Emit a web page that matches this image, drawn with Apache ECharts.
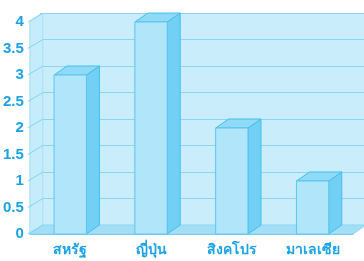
<!DOCTYPE html>
<html>
<head>
<meta charset="utf-8">
<script src="https://cdn.jsdelivr.net/npm/echarts@6/dist/echarts.min.js"></script>
<style>
  html, body { margin: 0; padding: 0; background: #fff; }
  #chart { width: 364px; height: 261px; }
</style>
</head>
<body>
<div id="chart"></div>
<script>
const categories = ['สหรัฐ', 'ญี่ปุ่น', 'สิงคโปร', 'มาเลเซีย'];
const values = [3, 4, 2, 1];
const yTicks = [0, 0.5, 1, 1.5, 2, 2.5, 3, 3.5, 4];

// depth offset of the fake 3d
const DX = 13, DY = 9;
const textColor = '#1ba3e6';

const chart = echarts.init(document.getElementById('chart'));

function drawWalls(params, api) {
  const cs = params.coordSys;
  const x0 = cs.x, x1 = cs.x + cs.width;
  const yTop = cs.y, yBot = cs.y + cs.height;
  const children = [
    {
      type: 'polygon',
      shape: { points: [[x0, yTop], [x0 + DX, yTop - DY], [x0 + DX, yBot - DY], [x0, yBot]] },
      style: { fill: '#c4ecfb', stroke: '#a6e0f6', lineWidth: 1 }
    },
    {
      type: 'polygon',
      shape: { points: [[x0, yBot], [x0 + DX, yBot - DY], [x1 + DX, yBot - DY], [x1, yBot]] },
      style: { fill: '#a3def7', stroke: '#8ad5f3', lineWidth: 1 }
    }
  ];
  yTicks.forEach(function (v) {
    const y = api.coord([0, v])[1];
    children.push({
      type: 'line',
      shape: { x1: x0 - 2, y1: y, x2: x0 + DX, y2: y - DY },
      style: { stroke: '#86d3f2', lineWidth: 1 }
    });
  });
  return { type: 'group', children: children };
}

function drawBar(params, api) {
  const i = api.value(0);
  const top = api.coord([i, api.value(1)]);
  const base = api.coord([i, 0]);
  const w = api.size([1, 0])[0] * 0.4;
  const l = top[0] - w / 2, r = top[0] + w / 2;
  return {
    type: 'group',
    children: [
      {
        type: 'polygon',
        shape: { points: [[r, top[1]], [r + DX, top[1] - DY], [r + DX, base[1] - DY], [r, base[1]]] },
        style: { fill: '#72d0f5', stroke: '#45bdee', lineWidth: 1 }
      },
      {
        type: 'polygon',
        shape: { points: [[l, top[1]], [l + DX, top[1] - DY], [r + DX, top[1] - DY], [r, top[1]]] },
        style: { fill: '#8fdaf6', stroke: '#45bdee', lineWidth: 1 }
      },
      {
        type: 'rect',
        shape: { x: l, y: top[1], width: w, height: base[1] - top[1] },
        style: { fill: '#b1e5f9', stroke: '#5cc6f0', lineWidth: 1 }
      }
    ]
  };
}

chart.setOption({
  animation: false,
  grid: [
    { left: 27, right: 11, top: 22, bottom: 27 },
    { left: 27 + DX, right: 11 - DX, top: 22 - DY, bottom: 27 + DY, show: true,
      backgroundColor: '#c9edfb', borderWidth: 0 }
  ],
  xAxis: [
    {
      type: 'category', gridIndex: 0, data: categories,
      axisLine: { lineStyle: { color: '#6ccbf1' } },
      axisTick: { length: 3, lineStyle: { color: '#6ccbf1' } },
      axisLabel: { color: textColor, fontWeight: 'bold', fontSize: 14, margin: 9 }
    },
    {
      type: 'category', gridIndex: 1, data: categories,
      axisLine: { show: false }, axisTick: { show: false }, axisLabel: { show: false }
    }
  ],
  yAxis: [
    {
      type: 'value', gridIndex: 0, min: 0, max: 4, interval: 0.5,
      axisLine: { show: false }, axisTick: { show: false },
      splitLine: { show: false },
      axisLabel: { color: textColor, fontWeight: 'bold', fontSize: 15, margin: 6 }
    },
    {
      type: 'value', gridIndex: 1, min: 0, max: 4, interval: 0.5,
      axisLine: { show: false }, axisTick: { show: false }, axisLabel: { show: false },
      splitLine: { lineStyle: { color: '#8ad5f3', width: 1 } }
    }
  ],
  series: [
    {
      type: 'custom', xAxisIndex: 0, yAxisIndex: 0,
      renderItem: drawWalls, data: [[0, 0]], silent: true
    },
    {
      type: 'custom', xAxisIndex: 0, yAxisIndex: 0,
      renderItem: drawBar,
      data: values.map(function (v, i) { return [i, v]; })
    }
  ]
});
</script>
</body>
</html>
